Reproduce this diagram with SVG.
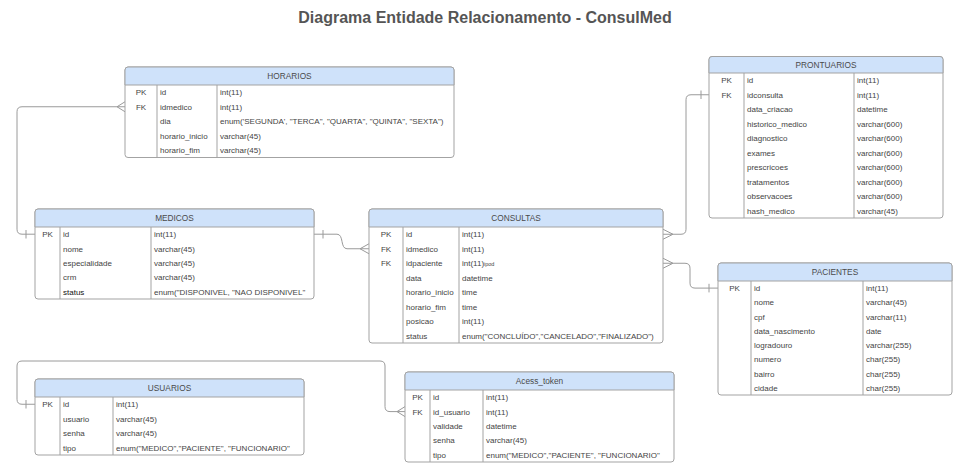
<svg xmlns="http://www.w3.org/2000/svg" width="969" height="469" viewBox="0 0 969 469">
<style>
.box{fill:#fff;stroke:#a3a3a3;stroke-width:1}
.hdr{fill:#cfe2fa;stroke:#a3a3a3;stroke-width:1}
.ln{stroke:#a3a3a3;stroke-width:1;fill:none}
text{font-family:"Liberation Sans",Arial,sans-serif;font-size:8px;fill:#444}
.h{font-size:8.3px;text-anchor:middle;fill:#4a4a4a}
.k{text-anchor:middle}
.title{font-size:16px;font-weight:bold;fill:#555;text-anchor:middle}
.conn{fill:none;stroke:#9a9a9a;stroke-width:1}
</style>
<rect width="969" height="469" fill="#fff"/>
<text class="title" x="485" y="23">Diagrama Entidade Relacionamento - ConsulMed</text>

<g id="connectors">
  <!-- HORARIOS.idmedico -> MEDICOS.id -->
  <path class="conn" d="M125,106.75 H22 Q17,106.75 17,111.75 V229.2 Q17,234.2 22,234.2 H35"/>
  <path class="conn" d="M125,101.75 L117,106.75 L125,111.75"/>
  <path class="conn" d="M26,230 V238.5"/>
  <!-- MEDICOS.id -> CONSULTAS.idmedico -->
  <path class="conn" d="M314,234.2 H337 C344,234.2 340,248.75 347,248.75 H369"/>
  <path class="conn" d="M323,230 V238.5"/>
  <path class="conn" d="M369,243.75 L360,248.75 L369,253.75"/>
  <!-- CONSULTAS.id -> PRONTUARIOS.idconsulta -->
  <path class="conn" d="M663,234.25 H681 Q686,234.25 686,229.25 V99.75 Q686,94.75 691,94.75 H709"/>
  <path class="conn" d="M663,229.25 L673,234.25 L663,239.25"/>
  <path class="conn" d="M701,90.5 V99"/>
  <!-- CONSULTAS.idpaciente -> PACIENTES.id -->
  <path class="conn" d="M663,263.25 H685 Q690,263.25 690,268.25 V283.1 Q690,288.1 695,288.1 H718"/>
  <path class="conn" d="M663,258.25 L673,263.25 L663,268.25"/>
  <path class="conn" d="M709,283.8 V292.4"/>
  <!-- USUARIOS.id -> Acess_token.id_usuario -->
  <path class="conn" d="M35,404.25 H22 Q17,404.25 17,399.25 V366 Q17,361 22,361 H380 Q385,361 385,366 V406.6 Q385,411.6 390,411.6 H405"/>
  <path class="conn" d="M26,400 V408.5"/>
  <path class="conn" d="M405,406.6 L397,411.6 L405,416.6"/>
</g>

<g id="HORARIOS">
  <rect class="box" x="125" y="67" width="329" height="90.5" rx="3"/>
  <path class="hdr" d="M125,85 V70 Q125,67 128,67 H451 Q454,67 454,70 V85 Z"/>
  <path class="ln" d="M157,85 V157.5 M217,85 V157.5"/>
  <text class="h" x="289.5" y="79">HORARIOS</text>
  <text class="k" x="141" y="95.3">PK</text>
  <text class="k" x="141" y="109.8">FK</text>
  <text x="160" y="95.3">id</text><text x="220" y="95.3">int(11)</text>
  <text x="160" y="109.8">idmedico</text><text x="220" y="109.8">int(11)</text>
  <text x="160" y="124.3">dia</text><text x="220" y="124.3">enum('SEGUNDA', "TERCA", "QUARTA", "QUINTA", "SEXTA")</text>
  <text x="160" y="138.8">horario_inicio</text><text x="220" y="138.8">varchar(45)</text>
  <text x="160" y="153.3">horario_fim</text><text x="220" y="153.3">varchar(45)</text>
</g>

<g id="PRONTUARIOS">
  <rect class="box" x="709" y="56.5" width="234" height="161.5" rx="3"/>
  <path class="hdr" d="M709,73 V59.5 Q709,56.5 712,56.5 H940 Q943,56.5 943,59.5 V73 Z"/>
  <path class="ln" d="M744,73 V218 M854,73 V218"/>
  <text class="h" x="826" y="67.8">PRONTUARIOS</text>
  <text class="k" x="726.5" y="83.3">PK</text>
  <text class="k" x="726.5" y="97.8">FK</text>
  <text x="747" y="83.3">id</text><text x="857" y="83.3">int(11)</text>
  <text x="747" y="97.8">idconsulta</text><text x="857" y="97.8">int(11)</text>
  <text x="747" y="112.3">data_criacao</text><text x="857" y="112.3">datetime</text>
  <text x="747" y="126.8">historico_medico</text><text x="857" y="126.8">varchar(600)</text>
  <text x="747" y="141.3">diagnostico</text><text x="857" y="141.3">varchar(600)</text>
  <text x="747" y="155.8">exames</text><text x="857" y="155.8">varchar(600)</text>
  <text x="747" y="170.3">prescricoes</text><text x="857" y="170.3">varchar(600)</text>
  <text x="747" y="184.8">tratamentos</text><text x="857" y="184.8">varchar(600)</text>
  <text x="747" y="199.3">observacoes</text><text x="857" y="199.3">varchar(600)</text>
  <text x="747" y="213.8">hash_medico</text><text x="857" y="213.8">varchar(45)</text>
</g>

<g id="MEDICOS">
  <rect class="box" x="35" y="209" width="279" height="90" rx="3"/>
  <path class="hdr" d="M35,227 V212 Q35,209 38,209 H311 Q314,209 314,212 V227 Z"/>
  <path class="ln" d="M60,227 V299 M151,227 V299"/>
  <text class="h" x="174.5" y="221">MEDICOS</text>
  <text class="k" x="47.5" y="237.2">PK</text>
  <text x="63" y="237.2">id</text><text x="154" y="237.2">int(11)</text>
  <text x="63" y="251.6">nome</text><text x="154" y="251.6">varchar(45)</text>
  <text x="63" y="266">especialidade</text><text x="154" y="266">varchar(45)</text>
  <text x="63" y="280.4">crm</text><text x="154" y="280.4">varchar(45)</text>
  <text x="63" y="294.8" style="fill:#111">status</text><text x="154" y="294.8">enum("DISPONIVEL, "NAO DISPONIVEL"</text>
</g>

<g id="CONSULTAS">
  <rect class="box" x="369" y="209" width="294" height="134" rx="3"/>
  <path class="hdr" d="M369,227 V212 Q369,209 372,209 H660 Q663,209 663,212 V227 Z"/>
  <path class="ln" d="M403,227 V343 M459,227 V343"/>
  <text class="h" x="516" y="221">CONSULTAS</text>
  <text class="k" x="386" y="237.3">PK</text>
  <text class="k" x="386" y="251.8">FK</text>
  <text class="k" x="386" y="266.3">FK</text>
  <text x="406" y="237.3">id</text><text x="462" y="237.3">int(11)</text>
  <text x="406" y="251.8">idmedico</text><text x="462" y="251.8">int(11)</text>
  <text x="406" y="266.3">idpaciente</text><text x="462" y="266.3">int(11)</text><text x="484" y="266.3" style="font-size:5.5px">ipod</text>
  <text x="406" y="280.8">data</text><text x="462" y="280.8">datetime</text>
  <text x="406" y="295.3">horario_inicio</text><text x="462" y="295.3">time</text>
  <text x="406" y="309.8">horario_fim</text><text x="462" y="309.8">time</text>
  <text x="406" y="324.3">posicao</text><text x="462" y="324.3">int(11)</text>
  <text x="406" y="338.8">status</text><text x="462" y="338.8">enum("CONCLUÍDO","CANCELADO","FINALIZADO")</text>
</g>

<g id="PACIENTES">
  <rect class="box" x="718" y="263" width="234" height="132" rx="3"/>
  <path class="hdr" d="M718,281 V266 Q718,263 721,263 H949 Q952,263 952,266 V281 Z"/>
  <path class="ln" d="M751,281 V395 M863,281 V395"/>
  <text class="h" x="835" y="275">PACIENTES</text>
  <text class="k" x="734.5" y="291.1">PK</text>
  <text x="754" y="291.1">id</text><text x="866" y="291.1">int(11)</text>
  <text x="754" y="305.4">nome</text><text x="866" y="305.4">varchar(45)</text>
  <text x="754" y="319.6">cpf</text><text x="866" y="319.6">varchar(11)</text>
  <text x="754" y="333.9">data_nascimento</text><text x="866" y="333.9">date</text>
  <text x="754" y="348.1">logradouro</text><text x="866" y="348.1">varchar(255)</text>
  <text x="754" y="362.4">numero</text><text x="866" y="362.4">char(255)</text>
  <text x="754" y="376.6">bairro</text><text x="866" y="376.6">char(255)</text>
  <text x="754" y="390.9">cidade</text><text x="866" y="390.9">char(255)</text>
</g>

<g id="USUARIOS">
  <rect class="box" x="35" y="379" width="269" height="76" rx="3"/>
  <path class="hdr" d="M35,397 V382 Q35,379 38,379 H301 Q304,379 304,382 V397 Z"/>
  <path class="ln" d="M60,397 V455 M113,397 V455"/>
  <text class="h" x="169.5" y="391">USUARIOS</text>
  <text class="k" x="47.5" y="407.3">PK</text>
  <text x="63" y="407.3">id</text><text x="116" y="407.3">int(11)</text>
  <text x="63" y="421.8">usuario</text><text x="116" y="421.8">varchar(45)</text>
  <text x="63" y="436.3">senha</text><text x="116" y="436.3">varchar(45)</text>
  <text x="63" y="450.8">tipo</text><text x="116" y="450.8">enum("MEDICO","PACIENTE", "FUNCIONARIO"</text>
</g>

<g id="Acess_token">
  <rect class="box" x="405" y="372" width="269" height="90" rx="3"/>
  <path class="hdr" d="M405,390 V375 Q405,372 408,372 H671 Q674,372 674,375 V390 Z"/>
  <path class="ln" d="M430,390 V462 M483,390 V462"/>
  <text class="h" x="539.5" y="384">Acess_token</text>
  <text class="k" x="417.5" y="400.2">PK</text>
  <text class="k" x="417.5" y="414.6">FK</text>
  <text x="433" y="400.2">id</text><text x="486" y="400.2">int(11)</text>
  <text x="433" y="414.6">id_usuario</text><text x="486" y="414.6">int(11)</text>
  <text x="433" y="429">validade</text><text x="486" y="429">datetime</text>
  <text x="433" y="443.4">senha</text><text x="486" y="443.4">varchar(45)</text>
  <text x="433" y="457.8">tipo</text><text x="486" y="457.8">enum("MEDICO","PACIENTE", "FUNCIONARIO"</text>
</g>
</svg>
